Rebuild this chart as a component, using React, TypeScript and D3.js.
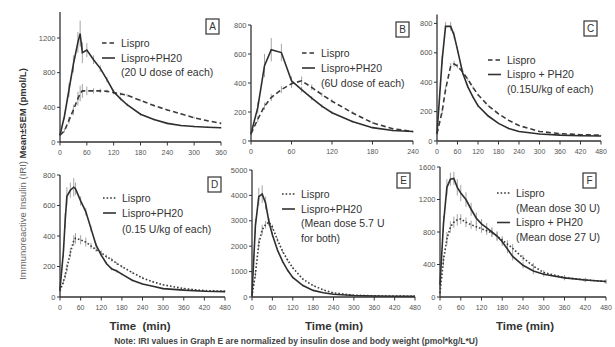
import React from 'react';
import * as d3 from 'd3';

// ---------- Panel A (20 U dose of each) ----------
const aTime = [0, 10, 20, 30, 40, 45, 50, 60, 75, 90, 105, 120, 135, 150, 180, 210, 240, 270, 300, 330, 360];
const aLispro = [80, 130, 250, 370, 500, 560, 590, 590, 590, 590, 585, 570, 555, 540, 480, 420, 370, 325, 280, 245, 215];
const aLisproSem = [10, 20, 40, 60, 80, 90, 80, 50, 30, 25, 20, 20, 18, 15, 12, 12, 10, 10, 10, 10, 10];
const aPh20 = [80, 300, 600, 900, 1150, 1250, 1030, 1060, 950, 850, 720, 580, 500, 430, 320, 260, 215, 190, 178, 170, 165];
const aPh20Sem = [10, 40, 80, 100, 120, 150, 120, 80, 50, 40, 30, 25, 20, 18, 15, 12, 10, 10, 10, 10, 10];
const aXTicks = [0, 60, 120, 180, 240, 300, 360];
const aYTicks = [0, 400, 800, 1200];
const aLegend = ['Lispro', 'Lispro+PH20', '(20 U dose of each)'];

// ---------- Panel B (6U dose of each) ----------
const bTime = [0, 10, 20, 30, 45, 60, 75, 90, 105, 120, 150, 180, 210, 240];
const bLispro = [50, 150, 240, 300, 355, 395, 415, 370, 320, 275, 195, 125, 85, 65];
const bLisproSem = [10, 20, 25, 25, 25, 30, 30, 20, 15, 12, 10, 8, 6, 5];
const bPh20 = [50, 230, 520, 630, 610, 415, 355, 295, 240, 195, 135, 92, 72, 65];
const bPh20Sem = [10, 40, 80, 80, 60, 30, 20, 15, 12, 10, 8, 6, 5, 5];
const bXTicks = [0, 60, 120, 180, 240];
const bYTicks = [0, 200, 400, 600, 800];
const bLegend = ['Lispro', 'Lispro+PH20', '(6U dose of each)'];

// ---------- Panel C (0.15U/kg of each) ----------
const cTime = [0, 15, 25, 40, 50, 60, 75, 90, 105, 120, 150, 180, 210, 240, 300, 360, 420, 480];
const cLispro = [50, 200, 350, 510, 525, 510, 470, 420, 365, 315, 240, 185, 140, 105, 65, 50, 43, 40];
const cLisproSem = [5, 15, 20, 20, 20, 15, 12, 10, 8, 8, 6, 5, 5, 4, 4, 3, 3, 3];
const cPh20 = [50, 550, 780, 780, 720, 620, 465, 370, 300, 240, 170, 120, 85, 65, 48, 40, 36, 34];
const cPh20Sem = [5, 30, 30, 30, 25, 20, 15, 10, 8, 8, 6, 5, 5, 4, 4, 3, 3, 3];
const cXTicks = [0, 60, 120, 180, 240, 300, 360, 420, 480];
const cYTicks = [0, 200, 400, 600, 800];
const cLegend = ['Lispro', 'Lispro + PH20', '(0.15U/kg of each)'];

// ---------- Panel D (0.15 U/kg of each) ----------
const dTime = [0, 10, 15, 20, 30, 40, 45, 60, 75, 90, 105, 120, 135, 150, 165, 180, 210, 240, 270, 300, 360, 420, 480];
const dLispro = [40, 100, 140, 190, 290, 370, 385, 375, 360, 335, 310, 290, 265, 245, 220, 200, 160, 125, 100, 80, 55, 42, 38];
const dLisproSem = [5, 15, 20, 25, 30, 35, 35, 30, 30, 20, 15, 15, 12, 12, 10, 10, 8, 8, 6, 5, 5, 4, 4];
const dPh20 = [50, 300, 500, 660, 700, 720, 710, 630, 560, 450, 340, 275, 220, 185, 170, 150, 110, 85, 70, 55, 45, 38, 35];
const dPh20Sem = [10, 40, 50, 60, 50, 60, 40, 30, 25, 20, 15, 12, 10, 10, 10, 8, 8, 6, 5, 5, 5, 4, 4];
const dXTicks = [0, 60, 120, 180, 240, 300, 360, 420, 480];
const dYTicks = [0, 200, 400, 600, 800];
const dLegend = ['Lispro', 'Lispro+PH20', '(0.15 U/kg of each)'];

// ---------- Panel E (mean dose 5.7 U, normalized) ----------
const eTime = [0, 10, 20, 30, 40, 50, 60, 75, 90, 105, 120, 150, 180, 210, 240, 300, 360, 420, 480];
const eLispro = [20, 900, 2100, 2650, 2850, 2950, 2750, 2250, 1800, 1450, 1150, 700, 450, 280, 160, 70, 45, 35, 30];
const eLisproSem = [10, 150, 200, 200, 150, 120, 100, 80, 60, 50, 40, 30, 20, 15, 10, 8, 5, 5, 5];
const ePh20 = [80, 2800, 3950, 4050, 3700, 2950, 2450, 1850, 1400, 1050, 770, 450, 260, 170, 110, 60, 40, 30, 25];
const ePh20Sem = [20, 300, 350, 350, 250, 150, 100, 80, 60, 50, 40, 30, 20, 15, 10, 10, 5, 5, 5];
const eXTicks = [0, 60, 120, 180, 240, 300, 360, 420, 480];
const eYTicks = [0, 1000, 2000, 3000, 4000, 5000];
const eLegend = ['Lispro', 'Lispro+PH20', '(Mean dose 5.7 U', 'for both)'];

// ---------- Panel F (mean dose 30 U / 27 U) ----------
const fTime = [0, 10, 20, 30, 40, 50, 60, 75, 90, 105, 120, 135, 150, 165, 180, 195, 210, 240, 270, 300, 360, 420, 480];
const fLispro = [50, 450, 720, 860, 920, 950, 960, 920, 890, 865, 840, 815, 790, 750, 700, 650, 600, 480, 380, 300, 240, 210, 190];
const fLisproSem = [20, 60, 80, 70, 70, 70, 60, 60, 50, 50, 50, 50, 50, 50, 50, 50, 50, 40, 40, 30, 30, 25, 25];
const fPh20 = [150, 900, 1350, 1450, 1460, 1350, 1280, 1200, 1080, 970, 900, 850, 800, 750, 680, 590, 500, 390, 320, 280, 235, 210, 190];
const fPh20Sem = [50, 100, 100, 80, 80, 100, 100, 90, 80, 70, 60, 60, 60, 60, 50, 50, 50, 40, 40, 30, 30, 25, 25];
const fXTicks = [0, 60, 120, 180, 240, 300, 360, 420, 480];
const fYTicks = [0, 400, 800, 1200, 1600];
const fLegend = ['Lispro', '(Mean dose 30 U)', 'Lispro + PH20', '(Mean dose 27 U)'];

const yAxisTitleA = 'Immunoreactive Insulin (IRI) ';
const yAxisTitleB = 'Mean±SEM (pmol/L)';
const xTitles = ['Time  (min)', 'Time (min)', 'Time (min)'];
const noteText = 'Note:  IRI values in Graph E are normalized by insulin dose and body weight (pmol*kg/L*U)';

type Marker = 'dash' | 'dot' | 'solid' | null;

interface Panel {
  id: string;
  time: number[];
  ref: number[];
  refSem: number[];
  ph: number[];
  phSem: number[];
  xTicks: number[];
  yTicks: number[];
  yMax: number;
  refDash: string;
  legend: string[];
  markers: Marker[];
  frame: { x0: number; x1: number; yb: number; yt: number };
  leg: { x: number; y: number[] };
  tag: { x: number; y: number };
}

const DASH = '5,3';
const DOT = '1.6,2';

const panels: Panel[] = [
  {
    id: 'A', time: aTime, ref: aLispro, refSem: aLisproSem, ph: aPh20, phSem: aPh20Sem,
    xTicks: aXTicks, yTicks: aYTicks, yMax: 1500, refDash: DASH, legend: aLegend,
    markers: ['dash', 'solid', null],
    frame: { x0: 60, x1: 221, yb: 142, yt: 12 },
    leg: { x: 102, y: [43, 58, 72] }, tag: { x: 206, y: 19 },
  },
  {
    id: 'B', time: bTime, ref: bLispro, refSem: bLisproSem, ph: bPh20, phSem: bPh20Sem,
    xTicks: bXTicks, yTicks: bYTicks, yMax: 800, refDash: DASH, legend: bLegend,
    markers: ['dash', 'solid', null],
    frame: { x0: 251, x1: 413, yb: 141, yt: 25 },
    leg: { x: 302, y: [53, 68, 83] }, tag: { x: 396, y: 22 },
  },
  {
    id: 'C', time: cTime, ref: cLispro, refSem: cLisproSem, ph: cPh20, phSem: cPh20Sem,
    xTicks: cXTicks, yTicks: cYTicks, yMax: 860, refDash: DASH, legend: cLegend,
    markers: ['dash', 'solid', null],
    frame: { x0: 437, x1: 601, yb: 141, yt: 14.6 },
    leg: { x: 488, y: [60, 74.5, 89] }, tag: { x: 584, y: 21 },
  },
  {
    id: 'D', time: dTime, ref: dLispro, refSem: dLisproSem, ph: dPh20, phSem: dPh20Sem,
    xTicks: dXTicks, yTicks: dYTicks, yMax: 800, refDash: DOT, legend: dLegend,
    markers: ['dot', 'solid', null],
    frame: { x0: 60, x1: 225, yb: 297, yt: 175 },
    leg: { x: 103, y: [198, 213, 229] }, tag: { x: 208, y: 177 },
  },
  {
    id: 'E', time: eTime, ref: eLispro, refSem: eLisproSem, ph: ePh20, phSem: ePh20Sem,
    xTicks: eXTicks, yTicks: eYTicks, yMax: 5000, refDash: DOT, legend: eLegend,
    markers: ['dot', 'solid', null, null],
    frame: { x0: 252, x1: 415, yb: 297, yt: 170 },
    leg: { x: 282, y: [194, 209, 223.5, 238] }, tag: { x: 397, y: 173 },
  },
  {
    id: 'F', time: fTime, ref: fLispro, refSem: fLisproSem, ph: fPh20, phSem: fPh20Sem,
    xTicks: fXTicks, yTicks: fYTicks, yMax: 1600, refDash: DOT, legend: fLegend,
    markers: ['dot', null, 'solid', null],
    frame: { x0: 440, x1: 606, yb: 297, yt: 167 },
    leg: { x: 497, y: [193, 208, 222.5, 237] }, tag: { x: 583, y: 173 },
  },
];

const FONT = 'Liberation Sans, Arial, sans-serif';
const INK = '#333';

function PanelView({ p }: { p: Panel }) {
  const xMax = p.xTicks[p.xTicks.length - 1];
  const x = d3.scaleLinear().domain([0, xMax]).range([p.frame.x0, p.frame.x1]);
  const y = d3.scaleLinear().domain([0, p.yMax]).range([p.frame.yb, p.frame.yt]);
  const line = d3.line<number>().x((_, i) => x(p.time[i])).y((v) => y(v));
  const errBars = (vals: number[], sems: number[], key: string) =>
    vals.map((v, i) => (
      <line key={key + i} x1={x(p.time[i])} x2={x(p.time[i])}
        y1={y(Math.max(0, v - sems[i]))} y2={y(v + sems[i])}
        stroke="#9a9a9a" strokeWidth={0.9} />
    ));
  return (
    <g>
      {errBars(p.ref, p.refSem, 'er')}
      {errBars(p.ph, p.phSem, 'ep')}
      <path d={line(p.ref) || ''} fill="none" stroke="#3a3a3a" strokeWidth={1.6} strokeDasharray={p.refDash} />
      <path d={line(p.ph) || ''} fill="none" stroke="#2e2e2e" strokeWidth={1.6} />
      {/* axes */}
      <line x1={p.frame.x0} x2={p.frame.x0} y1={p.frame.yb} y2={p.frame.yt} stroke={INK} strokeWidth={1.3} />
      <line x1={p.frame.x0} x2={p.frame.x1} y1={p.frame.yb} y2={p.frame.yb} stroke={INK} strokeWidth={1.3} />
      {p.yTicks.map((t) => (
        <g key={'yt' + t}>
          <line x1={p.frame.x0 - 3} x2={p.frame.x0} y1={y(t)} y2={y(t)} stroke={INK} strokeWidth={1} />
          <text x={p.frame.x0 - 4.5} y={y(t) + 2.6} textAnchor="end" fontSize={7.5} fill="#555" fontFamily={FONT}>{t}</text>
        </g>
      ))}
      {p.xTicks.map((t) => (
        <g key={'xt' + t}>
          <line x1={x(t)} x2={x(t)} y1={p.frame.yb} y2={p.frame.yb + 3.5} stroke={INK} strokeWidth={1} />
          <text x={x(t)} y={p.frame.yb + 12.5} textAnchor="middle" fontSize={7} fill="#555" fontFamily={FONT}>{t}</text>
        </g>
      ))}
      {/* legend */}
      {p.legend.map((txt, i) => {
        const m = p.markers[i];
        const ly = p.leg.y[i];
        return (
          <g key={'lg' + i}>
            {m && (
              <line x1={p.leg.x} x2={p.leg.x + 13} y1={ly} y2={ly}
                stroke={INK} strokeWidth={1.6}
                strokeDasharray={m === 'dash' ? '4.5,3' : m === 'dot' ? DOT : undefined} />
            )}
            <text x={p.leg.x + 19} y={ly + 3.7} fontSize={10.5} fill={INK} fontFamily={FONT}>{txt}</text>
          </g>
        );
      })}
      {/* panel tag */}
      <rect x={p.tag.x} y={p.tag.y} width={13} height={15} fill="white" stroke={INK} strokeWidth={1.2} />
      <text x={p.tag.x + 6.5} y={p.tag.y + 11.2} textAnchor="middle" fontSize={10} fill={INK} fontFamily={FONT}>{p.id}</text>
    </g>
  );
}

export default function App() {
  const xTitleX = [140, 334, 525];
  return (
    <svg width={615} height={347} style={{ position: 'absolute', left: 0, top: 0, background: 'white' }}>
      <rect x={0} y={0} width={615} height={347} fill="white" />
      {panels.map((p) => <PanelView key={p.id} p={p} />)}
      <text transform="translate(26,174) rotate(-90)" textAnchor="middle" fontSize={9.5} fontFamily={FONT}>
        <tspan fill="#666">{yAxisTitleA}</tspan>
        <tspan fill="#333" fontWeight="bold">{yAxisTitleB}</tspan>
      </text>
      {xTitles.map((t, i) => (
        <text key={'xtitle' + i} x={xTitleX[i]} y={330} textAnchor="middle" fontSize={11.5} fontWeight="bold" fill={INK} fontFamily={FONT} style={{ whiteSpace: 'pre' }}>{t}</text>
      ))}
      <text x={296} y={344} textAnchor="middle" fontSize={8.5} fontWeight="bold" fill="#444" fontFamily={FONT}>{noteText}</text>
    </svg>
  );
}
